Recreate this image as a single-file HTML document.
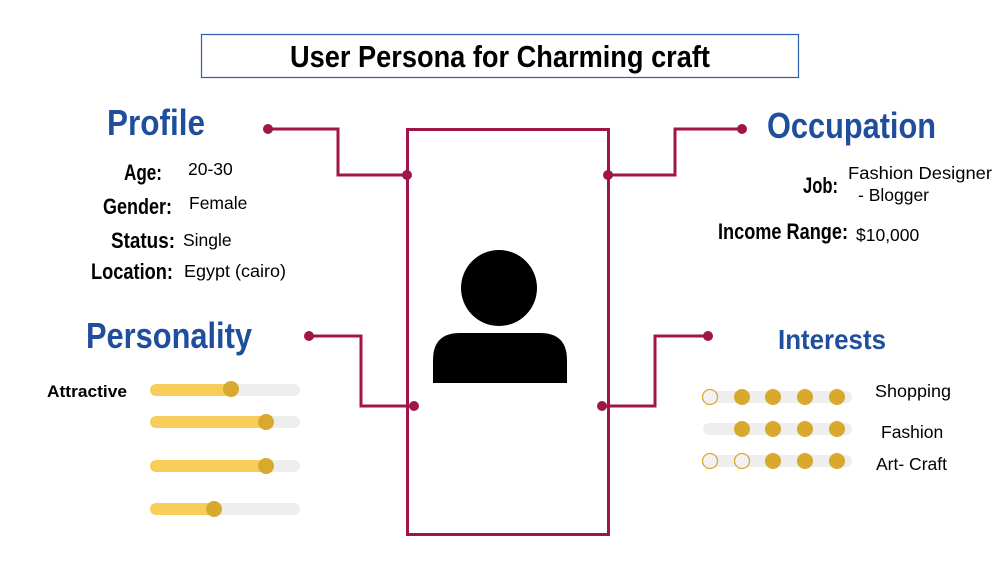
<!DOCTYPE html>
<html><head><meta charset="utf-8"><style>
html,body{margin:0;padding:0;background:#fff;}
svg{display:block}
.h{font-family:"Liberation Sans Narrow","Liberation Sans",sans-serif;font-weight:bold;fill:#1f4f9c}
.l{font-family:"Liberation Sans Narrow","Liberation Sans",sans-serif;font-weight:bold;fill:#000}
.v{font-family:"Liberation Sans",sans-serif;fill:#000}
</style></head><body>
<svg width="1000" height="562" viewBox="0 0 1000 562" xmlns="http://www.w3.org/2000/svg">
<rect x="201.5" y="34.5" width="597" height="43" fill="#fff" stroke="#2f5fae" stroke-width="1.2"/>
<text x="500" y="67" text-anchor="middle" class="l" font-size="31" textLength="420" lengthAdjust="spacingAndGlyphs">User Persona for Charming craft</text>

<g stroke="#a0164a" stroke-width="3" fill="none">
<rect x="407.5" y="129.5" width="201" height="405"/>
<polyline points="268,129 338,129 338,175 407,175"/>
<polyline points="608,175 675,175 675,129 742,129"/>
<polyline points="309,336 361,336 361,406 414,406"/>
<polyline points="602,406 655,406 655,336 708,336"/>
</g>
<g fill="#a0164a">
<circle cx="268" cy="129" r="5"/><circle cx="407" cy="175" r="5"/>
<circle cx="608" cy="175" r="5"/><circle cx="742" cy="129" r="5"/>
<circle cx="309" cy="336" r="5"/><circle cx="414" cy="406" r="5"/>
<circle cx="602" cy="406" r="5"/><circle cx="708" cy="336" r="5"/>
</g>
<circle cx="499" cy="288" r="38" fill="#000"/>
<path d="M433 383 L433 360 Q433 333 460 333 L540 333 Q567 333 567 360 L567 383 Z" fill="#000"/>

<text x="107" y="135" class="h" font-size="36" textLength="98" lengthAdjust="spacingAndGlyphs">Profile</text>
<text x="767" y="138" class="h" font-size="36" textLength="169" lengthAdjust="spacingAndGlyphs">Occupation</text>
<text x="86" y="348" class="h" font-size="36" textLength="166" lengthAdjust="spacingAndGlyphs">Personality</text>
<text x="778" y="349" class="h" font-size="28" textLength="108" lengthAdjust="spacingAndGlyphs">Interests</text>

<g font-size="22">
<text x="124" y="180" class="l" textLength="38" lengthAdjust="spacingAndGlyphs">Age:</text>
<text x="103" y="214" class="l" textLength="69" lengthAdjust="spacingAndGlyphs">Gender:</text>
<text x="111" y="248" class="l" textLength="64" lengthAdjust="spacingAndGlyphs">Status:</text>
<text x="91" y="279" class="l" textLength="82" lengthAdjust="spacingAndGlyphs">Location:</text>
<text x="803" y="193" class="l" textLength="35" lengthAdjust="spacingAndGlyphs">Job:</text>
<text x="718" y="239" class="l" textLength="130" lengthAdjust="spacingAndGlyphs">Income Range:</text>
</g>
<g font-size="17.5" class="v">
<text x="188" y="175">20-30</text>
<text x="189" y="209">Female</text>
<text x="183" y="246">Single</text>
<text x="184" y="277" textLength="102" lengthAdjust="spacingAndGlyphs">Egypt (cairo)</text>
<text x="848" y="179" textLength="144" lengthAdjust="spacingAndGlyphs">Fashion Designer</text>
<text x="858" y="201">- Blogger</text>
<text x="856" y="241">$10,000</text>
<text x="875" y="397" textLength="76" lengthAdjust="spacingAndGlyphs">Shopping</text>
<text x="881" y="438">Fashion</text>
<text x="876" y="470">Art- Craft</text>
</g>
<text x="47" y="397" font-weight="bold" font-size="17" style="font-family:'Liberation Sans',sans-serif" textLength="80" lengthAdjust="spacingAndGlyphs">Attractive</text>

<g stroke-linecap="round" stroke-width="12">
<line x1="156" y1="390" x2="294" y2="390" stroke="#eeeeee"/><line x1="156" y1="390" x2="231" y2="390" stroke="#f8cd5a"/>
<line x1="156" y1="422" x2="294" y2="422" stroke="#eeeeee"/><line x1="156" y1="422" x2="266" y2="422" stroke="#f8cd5a"/>
<line x1="156" y1="466" x2="294" y2="466" stroke="#eeeeee"/><line x1="156" y1="466" x2="266" y2="466" stroke="#f8cd5a"/>
<line x1="156" y1="509" x2="294" y2="509" stroke="#eeeeee"/><line x1="156" y1="509" x2="214" y2="509" stroke="#f8cd5a"/>
<line x1="709" y1="397" x2="846" y2="397" stroke="#eeeeee"/>
<line x1="709" y1="429" x2="846" y2="429" stroke="#eeeeee"/>
<line x1="709" y1="461" x2="846" y2="461" stroke="#eeeeee"/>
</g>
<g fill="#d9a92e">
<circle cx="231" cy="389" r="8"/><circle cx="266" cy="422" r="8"/><circle cx="266" cy="466" r="8"/><circle cx="214" cy="509" r="8"/>
<circle cx="742" cy="397" r="8"/><circle cx="773" cy="397" r="8"/><circle cx="805" cy="397" r="8"/><circle cx="837" cy="397" r="8"/>
<circle cx="742" cy="429" r="8"/><circle cx="773" cy="429" r="8"/><circle cx="805" cy="429" r="8"/><circle cx="837" cy="429" r="8"/>
<circle cx="773" cy="461" r="8"/><circle cx="805" cy="461" r="8"/><circle cx="837" cy="461" r="8"/>
</g>
<g fill="#f2f2f2" stroke="#d9a92e" stroke-width="1.3">
<circle cx="710" cy="397" r="7.5"/><circle cx="710" cy="461" r="7.5"/><circle cx="742" cy="461" r="7.5"/>
</g>
</svg>
</body></html>
